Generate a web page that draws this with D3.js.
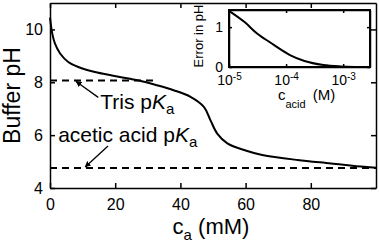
<!DOCTYPE html>
<html>
<head>
<meta charset="utf-8">
<script src="https://cdn.jsdelivr.net/npm/d3@7"></script>
<style>
  body { margin: 0; background: #fff; }
  svg { font-family: "Liberation Sans", Arial, sans-serif; }
  .axis path, .axis line { stroke: #000; stroke-width: 1.5; }
  .axis text { fill: #000; }
</style>
</head>
<body>
<script>
// Main curve: buffer pH vs added acid c_a (mM)
const caValues = [0, 0.7, 1.5, 3.1, 5.6, 8.7, 13.8, 19, 24.1, 29.2, 32.8, 37.9, 43.1, 47.2, 49.2, 51.3, 54.4, 60, 65.1, 75.9, 86.2, 96.4, 100];
const phValues = [10.45, 9.84, 9.47, 9.09, 8.77, 8.58, 8.39, 8.26, 8.14, 8.01, 7.89, 7.70, 7.45, 7.07, 6.57, 6.06, 5.69, 5.42, 5.25, 5.06, 4.93, 4.80, 4.77];

// Reference pKa lines
const trisPka = 8.07;
const trisLineEnd = 32.3;
const aceticPka = 4.76;

const xTicks = [0, 20, 40, 60, 80];
const yTicks = [4, 6, 8, 10];

// Inset: error in pH vs acid concentration (M)
const cAcid = [1e-5, 1.9e-5, 3.1e-5, 5.2e-5, 1.17e-4, 2.1e-4, 4.5e-4, 8.9e-4, 1.6e-3, 2.95e-3];
const phError = [1.41, 1.12, 0.84, 0.62, 0.30, 0.15, 0.05, 0.015, 0.003, 0];
const insetXTicks = [1e-5, 1e-4, 1e-3];
const insetYTicks = [0, 1];

const svg = d3.select("body").append("svg")
  .attr("width", 380)
  .attr("height", 242);

const x = d3.scaleLinear().domain([0, 100]).range([50, 376]);
const y = d3.scaleLinear().domain([4, 11]).range([188, 3]);

// axes, ticks pointing inward on all four sides
svg.append("g").attr("class", "axis")
  .attr("transform", `translate(0,${y(4)})`)
  .call(d3.axisBottom(x).tickValues(xTicks).tickSizeInner(-5).tickSizeOuter(0).tickPadding(11).tickFormat(d3.format("d")))
  .selectAll("text").style("font-size", "16px");
svg.append("g").attr("class", "axis")
  .attr("transform", `translate(0,${y(11)})`)
  .call(d3.axisTop(x).tickValues(xTicks).tickSizeInner(-5).tickSizeOuter(0).tickFormat(""));
svg.append("g").attr("class", "axis")
  .attr("transform", `translate(${x(0)},0)`)
  .call(d3.axisLeft(y).tickValues(yTicks).tickSizeInner(-5).tickSizeOuter(0).tickPadding(7).tickFormat(d3.format("d")))
  .selectAll("text").style("font-size", "16px");
svg.append("g").attr("class", "axis")
  .attr("transform", `translate(${x(100)},0)`)
  .call(d3.axisRight(y).tickValues(yTicks).tickSizeInner(-5).tickSizeOuter(0).tickFormat(""));

// dashed pKa lines
svg.append("line")
  .attr("x1", x(0)).attr("x2", x(trisLineEnd))
  .attr("y1", y(trisPka)).attr("y2", y(trisPka))
  .attr("stroke", "#000").attr("stroke-width", 2).attr("stroke-dasharray", "7,5");
svg.append("line")
  .attr("x1", x(0)).attr("x2", x(100))
  .attr("y1", y(aceticPka)).attr("y2", y(aceticPka))
  .attr("stroke", "#000").attr("stroke-width", 2).attr("stroke-dasharray", "7,5");

// the titration curve
const mainData = caValues.map((c, i) => ({ c: c, ph: phValues[i] }));
svg.append("path")
  .datum(mainData)
  .attr("fill", "none")
  .attr("stroke", "#000")
  .attr("stroke-width", 2)
  .attr("d", d3.line().x(d => x(d.c)).y(d => y(d.ph)).curve(d3.curveCatmullRom.alpha(0.5)));

// axis labels
svg.append("text")
  .attr("transform", `translate(20,${(y(4) + y(11)) / 2}) rotate(-90)`)
  .attr("text-anchor", "middle")
  .style("font-size", "23px")
  .text("Buffer pH");

let xLabel = svg.append("text")
  .attr("x", 211).attr("y", 234)
  .attr("text-anchor", "middle")
  .style("font-size", "22px");
xLabel.append("tspan").text("c");
xLabel.append("tspan").attr("dy", 6).style("font-size", "15px").text("a");
xLabel.append("tspan").attr("dy", -6).text(" (mM)");

// arrow marker
svg.append("defs").append("marker")
  .attr("id", "head")
  .attr("viewBox", "0 0 10 10")
  .attr("refX", 9).attr("refY", 5)
  .attr("markerWidth", 6).attr("markerHeight", 6)
  .attr("markerUnits", "userSpaceOnUse")
  .attr("orient", "auto")
  .append("path").attr("d", "M0,0L10,5L0,10Z").attr("fill", "#000");

function pkaLabel(cx, ph, name) {
  let t = svg.append("text")
    .attr("x", x(cx)).attr("y", y(ph))
    .style("font-size", "21px");
  t.append("tspan").text(name + " p");
  t.append("tspan").style("font-style", "italic").text("K");
  t.append("tspan").attr("dy", 5).style("font-size", "15px").text("a");
}
pkaLabel(15.4, 6.99, "Tris");
pkaLabel(2.5, 5.74, "acetic acid");

svg.append("line")
  .attr("x1", x(14.8)).attr("y1", y(7.43))
  .attr("x2", x(8)).attr("y2", y(trisPka) + 1)
  .attr("stroke", "#000").attr("stroke-width", 1.3)
  .attr("marker-end", "url(#head)");
svg.append("line")
  .attr("x1", x(17.8)).attr("y1", y(5.59))
  .attr("x2", x(10.8)).attr("y2", y(aceticPka) - 1)
  .attr("stroke", "#000").attr("stroke-width", 1.3)
  .attr("marker-end", "url(#head)");

// ---- inset ----
const ix = d3.scaleLog().domain([1e-5, Math.pow(10, -2.53)]).range([229, 370]);
const iy = d3.scaleLinear().domain([0, 1.43]).range([67, 10]);

svg.append("rect")
  .attr("x", 229).attr("y", 10)
  .attr("width", 141).attr("height", 57)
  .attr("fill", "#fff");

let ixAxis = svg.append("g").attr("class", "axis")
  .attr("transform", `translate(0,${iy(0)})`)
  .call(d3.axisBottom(ix).tickValues(insetXTicks).tickSizeInner(-3).tickSizeOuter(0).tickPadding(8).tickFormat(""));
ixAxis.selectAll(".tick text")
  .style("font-size", "14px")
  .each(function(d) {
    let t = d3.select(this);
    t.append("tspan").text("10");
    t.append("tspan").attr("dy", "-0.45em").style("font-size", "10px").text(Math.round(Math.log10(d)));
  });
svg.append("g").attr("class", "axis")
  .attr("transform", `translate(0,${iy(1.43)})`)
  .call(d3.axisTop(ix).tickValues(insetXTicks).tickSizeInner(-3).tickSizeOuter(0).tickFormat(""));
svg.append("g").attr("class", "axis")
  .attr("transform", `translate(${ix.range()[0]},0)`)
  .call(d3.axisLeft(iy).tickValues(insetYTicks).tickSizeInner(-3).tickSizeOuter(0).tickPadding(6).tickFormat(d3.format("d")))
  .selectAll("text").style("font-size", "14px");
svg.append("g").attr("class", "axis")
  .attr("transform", `translate(${ix.range()[1]},0)`)
  .call(d3.axisRight(iy).tickValues(insetYTicks).tickSizeInner(-3).tickSizeOuter(0).tickFormat(""));

svg.append("rect")
  .attr("x", 229).attr("y", 10)
  .attr("width", 141).attr("height", 57)
  .attr("fill", "none").attr("stroke", "#000").attr("stroke-width", 2);

const insetData = cAcid.map((c, i) => ({ c: c, e: phError[i] }));
svg.append("path")
  .datum(insetData)
  .attr("fill", "none")
  .attr("stroke", "#000")
  .attr("stroke-width", 2)
  .attr("d", d3.line().x(d => ix(d.c)).y(d => iy(d.e)).curve(d3.curveMonotoneX));

svg.append("text")
  .attr("transform", `translate(203,36) rotate(-90)`)
  .attr("text-anchor", "middle")
  .style("font-size", "13px")
  .text("Error in pH");

let ixLabel = svg.append("text")
  .attr("x", 278).attr("y", 100)
  .style("font-size", "15px");
ixLabel.append("tspan").text("c");
ixLabel.append("tspan").attr("dy", 8).style("font-size", "11px").text("acid");
ixLabel.append("tspan").attr("dy", -8).attr("dx", 7).text("(M)");
</script>
</body>
</html>
